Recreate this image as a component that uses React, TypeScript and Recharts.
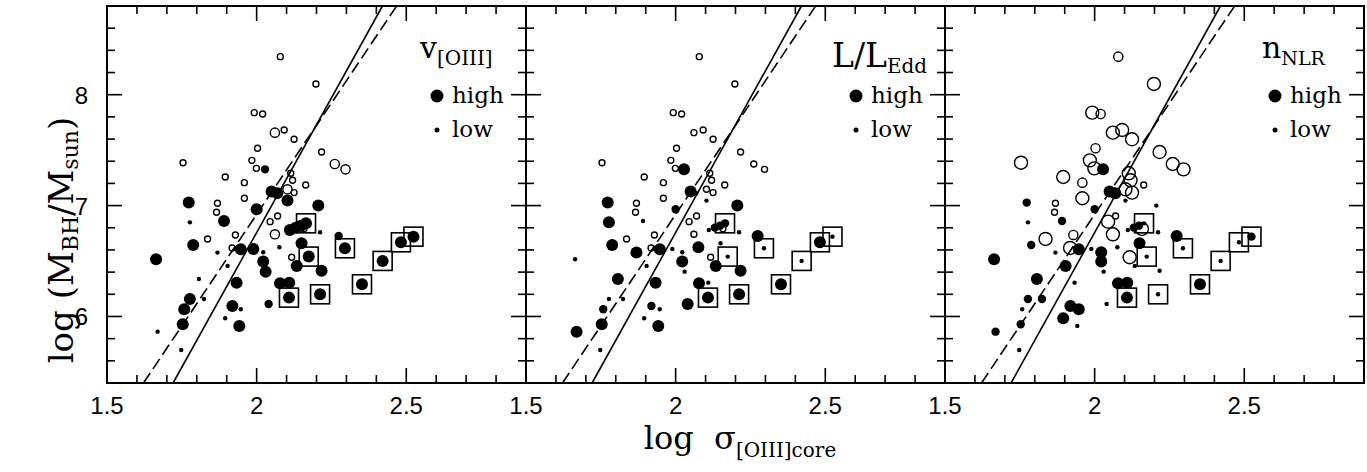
import React from 'react';
import { ScatterChart, Scatter, XAxis, YAxis, ReferenceLine, ReferenceArea } from 'recharts';

// ---------- axes ----------
const X_DOMAIN: [number, number] = [1.5, 2.9];
const Y_DOMAIN: [number, number] = [5.4, 8.8];
const xTicks = [1.5, 1.6, 1.7, 1.8, 1.9, 2.0, 2.1, 2.2, 2.3, 2.4, 2.5, 2.6, 2.7, 2.8, 2.9];
const xMajorTicks = [1.5, 2.0, 2.5];
const xTickLabels = ['1.5', '2', '2.5'];
const yTicks = [5.4, 5.6, 5.8, 6.0, 6.2, 6.4, 6.6, 6.8, 7.0, 7.2, 7.4, 7.6, 7.8, 8.0, 8.2, 8.4, 8.6, 8.8];
const yMajorTicks = [6, 7, 8];
const yTickLabels = ['6', '7', '8'];

// ---------- objects (same positions in all three panels) ----------
const logSigma = [
  2.158,
  2.079, 2.198, 1.992, 2.020, 2.061, 2.092, 2.125, 2.003, 2.217, 1.754,
  1.984, 1.999, 2.028, 2.261, 2.297, 1.895, 1.959, 2.114, 2.120, 2.164,
  2.103, 2.125, 2.050, 2.069, 1.959, 1.773, 1.869, 2.206, 2.000, 1.866,
  2.070, 1.891, 1.777, 2.045, 2.165, 2.111, 2.131, 2.148, 2.212, 2.061,
  1.929, 2.274, 1.836, 1.788, 2.150, 2.482, 2.524, 2.295, 1.918, 1.947,
  1.989, 2.076, 2.022, 1.869, 2.174, 2.117, 1.664, 2.022, 2.421, 1.903,
  2.134, 2.030, 2.217, 1.807, 1.933, 2.078, 2.109, 2.352, 1.777, 1.824,
  2.108, 2.212, 1.919, 2.040, 1.758, 1.947, 1.895, 1.753, 1.942, 1.669,
  1.748, 2.103,
];
const logMass = [
  6.790,
  8.343, 8.097, 7.838, 7.826, 7.658, 7.682, 7.598, 7.517, 7.483, 7.387,
  7.408, 7.336, 7.327, 7.375, 7.327, 7.258, 7.207, 7.291, 7.228, 7.186,
  7.147, 7.117, 7.126, 7.111, 7.066, 7.027, 7.021, 7.000, 6.967, 6.940,
  6.906, 6.861, 6.849, 6.855, 6.840, 6.780, 6.801, 6.819, 6.759, 6.741,
  6.735, 6.726, 6.699, 6.645, 6.660, 6.669, 6.720, 6.615, 6.618, 6.606,
  6.609, 6.624, 6.579, 6.576, 6.540, 6.534, 6.516, 6.495, 6.501, 6.456,
  6.456, 6.404, 6.413, 6.338, 6.305, 6.299, 6.305, 6.290, 6.158, 6.158,
  6.170, 6.200, 6.095, 6.113, 6.065, 6.065, 5.984, 5.930, 5.915, 5.863,
  5.698, 7.045,
];
// 1 = filled symbol, 0 = open symbol
const isFilled = [
  0,
  0, 0, 0, 0, 0, 0, 0, 0, 0, 0,
  0, 0, 1, 0, 0, 0, 0, 0, 0, 0,
  0, 0, 1, 1, 0, 1, 0, 1, 1, 0,
  0, 1, 1, 0, 1, 1, 1, 1, 1, 0,
  0, 1, 0, 1, 1, 1, 1, 1, 0, 1,
  1, 1, 1, 1, 1, 0, 1, 1, 1, 1,
  1, 1, 1, 1, 1, 1, 1, 1, 1, 1,
  1, 1, 1, 1, 1, 1, 1, 1, 1, 1,
  1, 1,
];
// 1 = object marked with a square
const isBoxed = [
  0,
  0, 0, 0, 0, 0, 0, 0, 0, 0, 0,
  0, 0, 0, 0, 0, 0, 0, 0, 0, 0,
  0, 0, 0, 0, 0, 0, 0, 0, 0, 0,
  0, 0, 0, 0, 1, 0, 0, 0, 0, 0,
  0, 0, 0, 0, 0, 1, 1, 1, 0, 0,
  0, 0, 0, 0, 1, 0, 0, 0, 1, 0,
  0, 0, 0, 0, 0, 0, 0, 1, 0, 0,
  1, 1, 0, 0, 0, 0, 0, 0, 0, 0,
  0, 0,
];
// symbol size class per panel: L = high, M = intermediate, S = low
const sizeVoiii = ('S' + 'SSSSMSSSSS' + 'SSMMMSSSSS' + 'MSLLSLSLLS' + 'SLSSLLLLSM' + 'SMSLLLLLSL' +
  'LSSSLSLLLS' + 'LLLSLLLLLS' + 'LLLMLSSLLS' + 'SL').split('');
const sizeLedd = ('S' + 'SSSSSSSSSS' + 'SSLSSSSSSS' + 'SSLSSLSLMS' + 'SSLSMSMMSS' + 'SLSLSLSSSL' +
  'SLSLSSSLSS' + 'LSLLLLSLSS' + 'LLMLMSSLLL' + 'SS').split('');
const sizeNnlr = ('L' + 'MLLMLLLMLL' + 'LLLLLLMLLS' + 'LLLLLMSSMS' + 'SMSLSSMMSL' + 'MLLMLSMSLL' +
  'SSLSSLLLSL' + 'SSSLSLLLMM' + 'LSLSSLLMSM' + 'SS').split('');

// ---------- M-sigma relations ----------
const LOG_SIGMA0 = 2.30103; // log 200 km/s
const fitIntercept = [8.22, 8.13];
const fitSlope = [4.86, 4.02];
const fitDashed = [false, true];

// ---------- panels ----------
const panelSizes = [sizeVoiii, sizeLedd, sizeNnlr];

// ---------- layout ----------
const PANEL_LEFTS = [107, 526, 945];
const PLOT_W = 419;
const PLOT_TOP = 6;
const PLOT_H = 377;
const PAD = 60;
const CHART_H = 472;
const PLOT_BOTTOM = PLOT_TOP + PLOT_H;
const PLOT_RIGHT = PAD + PLOT_W;

const FILLED_R: Record<string, number> = { L: 6, M: 4.2, S: 2.2 };
const OPEN_R: Record<string, number> = { L: 6.5, M: 4.6, S: 3 };

const near = (a: number, b: number) => Math.abs(a - b) < 1e-6;

function buildData(p: number) {
  return logSigma.map((x, i) => ({
    x,
    y: logMass[i],
    filled: isFilled[i] === 1,
    boxed: isBoxed[i] === 1,
    size: panelSizes[p][i],
  }));
}

const Marker = (props: any) => {
  const { cx, cy, payload } = props;
  if (cx == null || cy == null) return null;
  const r = payload.filled ? FILLED_R[payload.size] : OPEN_R[payload.size];
  return (
    <g>
      {payload.boxed && (
        <rect x={cx - 9.5} y={cy - 9.5} width={19} height={19} fill="none" stroke="#000" strokeWidth={1.6} />
      )}
      {payload.filled ? (
        <circle cx={cx} cy={cy} r={r} fill="#000" />
      ) : (
        <circle cx={cx} cy={cy} r={r} fill="none" stroke="#000" strokeWidth={1.4} />
      )}
    </g>
  );
};

const XTick = (props: any) => {
  const { x, payload } = props;
  const v = payload.value;
  const mi = xMajorTicks.findIndex((m) => near(m, v));
  const len = mi >= 0 ? 15 : 8;
  return (
    <g>
      <line x1={x} x2={x} y1={PLOT_BOTTOM} y2={PLOT_BOTTOM - len} stroke="#000" strokeWidth={1.6} />
      <line x1={x} x2={x} y1={PLOT_TOP} y2={PLOT_TOP + len} stroke="#000" strokeWidth={1.6} />
      {mi >= 0 && (
        <text x={x} y={414} textAnchor="middle" fontFamily="Liberation Sans, Arial, sans-serif" fontSize={24} fill="#000">
          {xTickLabels[mi]}
        </text>
      )}
    </g>
  );
};

const makeYTick = (showLabels: boolean) => (props: any) => {
  const { y, payload } = props;
  const v = payload.value;
  const mi = yMajorTicks.findIndex((m) => near(m, v));
  const len = mi >= 0 ? 15 : 8;
  return (
    <g>
      <line x1={PAD} x2={PAD + len} y1={y} y2={y} stroke="#000" strokeWidth={1.6} />
      <line x1={PLOT_RIGHT} x2={PLOT_RIGHT - len} y1={y} y2={y} stroke="#000" strokeWidth={1.6} />
      {showLabels && mi >= 0 && (
        <text x={PAD - 19} y={y + 9} textAnchor="end" fontFamily="Liberation Sans, Arial, sans-serif" fontSize={24} fill="#000">
          {yTickLabels[mi]}
        </text>
      )}
    </g>
  );
};

function fitSegment(i: number) {
  const xa = LOG_SIGMA0 + (Y_DOMAIN[0] - fitIntercept[i]) / fitSlope[i];
  const xb = LOG_SIGMA0 + (Y_DOMAIN[1] - fitIntercept[i]) / fitSlope[i];
  return [
    { x: xa, y: Y_DOMAIN[0] },
    { x: xb, y: Y_DOMAIN[1] },
  ];
}

const Panel = ({ p }: { p: number }) => {
  const data = buildData(p);
  return (
    <div style={{ position: 'absolute', left: PANEL_LEFTS[p] - PAD, top: 0 }}>
      <ScatterChart width={PLOT_W + 2 * PAD} height={CHART_H} margin={{ top: PLOT_TOP, right: PAD, bottom: 0, left: 0 }}>
        <XAxis
          type="number"
          dataKey="x"
          domain={X_DOMAIN}
          allowDataOverflow
          ticks={xTicks}
          interval={0}
          height={CHART_H - PLOT_BOTTOM}
          axisLine={false}
          tickLine={false}
          tickSize={0}
          tickMargin={0}
          tick={XTick}
        />
        <YAxis
          type="number"
          dataKey="y"
          domain={Y_DOMAIN}
          allowDataOverflow
          ticks={yTicks}
          interval={0}
          width={PAD}
          axisLine={false}
          tickLine={false}
          tickSize={0}
          tickMargin={0}
          tick={makeYTick(p === 0)}
        />
        <ReferenceArea
          x1={X_DOMAIN[0]}
          x2={X_DOMAIN[1]}
          y1={Y_DOMAIN[0]}
          y2={Y_DOMAIN[1]}
          fill="none"
          fillOpacity={0}
          stroke="#000"
          strokeWidth={2}
          ifOverflow="visible"
        />
        {fitIntercept.map((_, i) => (
          <ReferenceLine
            key={i}
            segment={fitSegment(i)}
            stroke="#000"
            strokeWidth={1.6}
            strokeDasharray={fitDashed[i] ? '12 5' : undefined}
            ifOverflow="visible"
          />
        ))}
        <Scatter data={data} shape={Marker} isAnimationActive={false} />
      </ScatterChart>
    </div>
  );
};

const SERIF = 'DejaVu Serif, serif';

const LegendBlock = ({ p }: { p: number }) => {
  const L = PANEL_LEFTS[p];
  let title: React.ReactNode = null;
  if (p === 0) {
    title = (
      <text x={L + 313} y={58} fontFamily={SERIF} fontSize={30} fill="#000">
        v<tspan fontSize={20} dy={7}>[OIII]</tspan>
      </text>
    );
  } else if (p === 1) {
    title = (
      <text x={L + 306} y={67} fontFamily={SERIF} fontSize={33} fill="#000">
        L/L<tspan fontSize={20} dy={6}>Edd</tspan>
      </text>
    );
  } else {
    title = (
      <text x={L + 317} y={58} fontFamily={SERIF} fontSize={30} fill="#000">
        n<tspan fontSize={19} dy={7}>NLR</tspan>
      </text>
    );
  }
  return (
    <g>
      {title}
      <circle cx={L + 330} cy={96} r={6.5} fill="#000" />
      <text x={L + 345} y={103} fontFamily={SERIF} fontSize={23} fill="#000">high</text>
      <circle cx={L + 330} cy={130} r={2.5} fill="#000" />
      <text x={L + 345} y={137} fontFamily={SERIF} fontSize={23} fill="#000">low</text>
    </g>
  );
};

export default function App() {
  return (
    <div style={{ position: 'absolute', left: 0, top: 0, width: 1367, height: 472, background: '#fff', overflow: 'hidden' }}>
      {[0, 1, 2].map((p) => (
        <Panel key={p} p={p} />
      ))}
      <svg width={1367} height={472} style={{ position: 'absolute', left: 0, top: 0, pointerEvents: 'none' }}>
        {[0, 1, 2].map((p) => (
          <LegendBlock key={p} p={p} />
        ))}
        <text
          x={73}
          y={240}
          transform="rotate(-90 73 240)"
          textAnchor="middle"
          fontFamily={SERIF}
          fontSize={34}
          fill="#000"
        >
          {'log\u00A0(M'}
          <tspan fontSize={22} dy={5}>BH</tspan>
          <tspan dy={-5}>/M</tspan>
          <tspan fontSize={22} dy={5}>sun</tspan>
          <tspan dy={-5}>)</tspan>
        </text>
        <text x={740} y={449} textAnchor="middle" fontFamily={SERIF} fontSize={32} fill="#000">
          {'log\u00A0\u00A0σ'}
          <tspan fontSize={20} dy={8}>[OIII]core</tspan>
        </text>
      </svg>
    </div>
  );
}
